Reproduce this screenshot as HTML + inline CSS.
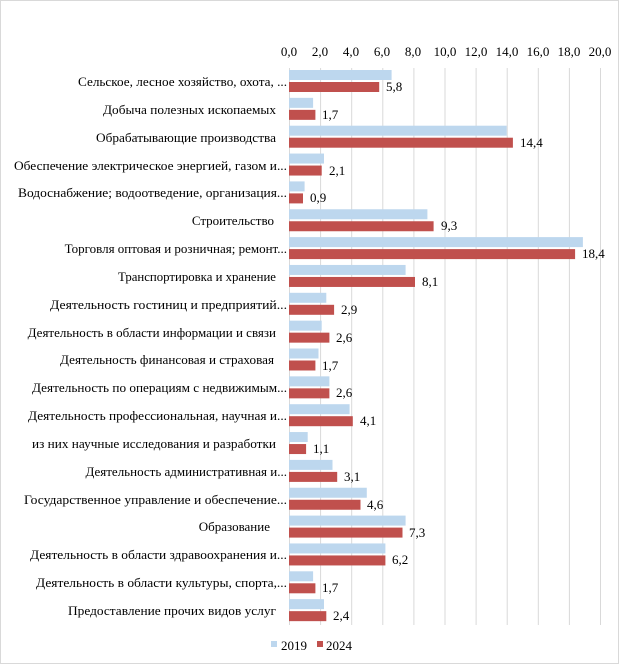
<!DOCTYPE html>
<html><head><meta charset="utf-8"><style>
html,body{margin:0;padding:0;background:#fff}
svg{display:block;font-family:"Liberation Serif",serif;font-size:13px}
</style></head><body>
<svg width="620" height="665" viewBox="0 0 620 665" xmlns="http://www.w3.org/2000/svg">
<rect x="0.5" y="0.5" width="618" height="663" fill="#fff" stroke="#d9d9d9"/>
<g stroke="#d9d9d9" stroke-width="1">
<line x1="289.5" y1="68" x2="289.5" y2="625"/>
<line x1="320.6" y1="68" x2="320.6" y2="625"/>
<line x1="351.7" y1="68" x2="351.7" y2="625"/>
<line x1="382.8" y1="68" x2="382.8" y2="625"/>
<line x1="413.9" y1="68" x2="413.9" y2="625"/>
<line x1="445" y1="68" x2="445" y2="625"/>
<line x1="476.1" y1="68" x2="476.1" y2="625"/>
<line x1="507.2" y1="68" x2="507.2" y2="625"/>
<line x1="538.3" y1="68" x2="538.3" y2="625"/>
<line x1="569.4" y1="68" x2="569.4" y2="625"/>
<line x1="600.5" y1="68" x2="600.5" y2="625"/>
</g>
<g text-anchor="middle" fill="#000">
<text x="289" y="56">0,0</text><text x="320" y="56">2,0</text><text x="351" y="56">4,0</text><text x="382" y="56">6,0</text><text x="413" y="56">8,0</text><text x="445" y="56">10,0</text><text x="476" y="56">12,0</text><text x="507" y="56">14,0</text><text x="538" y="56">16,0</text><text x="569" y="56">18,0</text><text x="600" y="56">20,0</text>
</g>
<g fill="#bdd7ee">
<rect x="289" y="70" width="102.6" height="10"/>
<rect x="289" y="97.85" width="24.1" height="10"/>
<rect x="289" y="125.7" width="217.7" height="10"/>
<rect x="289" y="153.55" width="35" height="10"/>
<rect x="289" y="181.4" width="15.6" height="10"/>
<rect x="289" y="209.25" width="138.4" height="10"/>
<rect x="289" y="237.1" width="293.9" height="10"/>
<rect x="289" y="264.95" width="116.6" height="10"/>
<rect x="289" y="292.8" width="37.3" height="10"/>
<rect x="289" y="320.65" width="32.7" height="10"/>
<rect x="289" y="348.5" width="29.5" height="10"/>
<rect x="289" y="376.35" width="40.4" height="10"/>
<rect x="289" y="404.2" width="60.6" height="10"/>
<rect x="289" y="432.05" width="18.7" height="10"/>
<rect x="289" y="459.9" width="43.5" height="10"/>
<rect x="289" y="487.75" width="77.8" height="10"/>
<rect x="289" y="515.6" width="116.6" height="10"/>
<rect x="289" y="543.45" width="96.4" height="10"/>
<rect x="289" y="571.3" width="24.1" height="10"/>
<rect x="289" y="599.15" width="35" height="10"/>
</g>
<g fill="#c0504d">
<rect x="289" y="82" width="90.2" height="10"/>
<rect x="289" y="109.85" width="26.4" height="10"/>
<rect x="289" y="137.7" width="223.9" height="10"/>
<rect x="289" y="165.55" width="32.7" height="10"/>
<rect x="289" y="193.4" width="14" height="10"/>
<rect x="289" y="221.25" width="144.6" height="10"/>
<rect x="289" y="249.1" width="286.1" height="10"/>
<rect x="289" y="276.95" width="126" height="10"/>
<rect x="289" y="304.8" width="45.1" height="10"/>
<rect x="289" y="332.65" width="40.4" height="10"/>
<rect x="289" y="360.5" width="26.4" height="10"/>
<rect x="289" y="388.35" width="40.4" height="10"/>
<rect x="289" y="416.2" width="63.8" height="10"/>
<rect x="289" y="444.05" width="17.1" height="10"/>
<rect x="289" y="471.9" width="48.2" height="10"/>
<rect x="289" y="499.75" width="71.5" height="10"/>
<rect x="289" y="527.6" width="113.5" height="10"/>
<rect x="289" y="555.45" width="96.4" height="10"/>
<rect x="289" y="583.3" width="26.4" height="10"/>
<rect x="289" y="611.15" width="37.3" height="10"/>
</g>
<g fill="#000">
<text x="386" y="91">5,8</text>
<text x="322" y="119">1,7</text>
<text x="520" y="147">14,4</text>
<text x="329" y="175">2,1</text>
<text x="310" y="202">0,9</text>
<text x="441" y="230">9,3</text>
<text x="582" y="258">18,4</text>
<text x="422" y="286">8,1</text>
<text x="341" y="314">2,9</text>
<text x="336" y="342">2,6</text>
<text x="322" y="370">1,7</text>
<text x="336" y="397">2,6</text>
<text x="360" y="425">4,1</text>
<text x="313" y="453">1,1</text>
<text x="344" y="481">3,1</text>
<text x="367" y="509">4,6</text>
<text x="409" y="537">7,3</text>
<text x="392" y="564">6,2</text>
<text x="322" y="592">1,7</text>
<text x="333" y="620">2,4</text>
</g>
<g fill="#000">
<text x="78" y="86" textLength="209" lengthAdjust="spacingAndGlyphs">Сельское, лесное хозяйство,  охота, ...</text>
<text x="103" y="114" textLength="173" lengthAdjust="spacingAndGlyphs">Добыча полезных  ископаемых</text>
<text x="96" y="142" textLength="180" lengthAdjust="spacingAndGlyphs">Обрабатывающие производства</text>
<text x="14" y="170" textLength="273" lengthAdjust="spacingAndGlyphs">Обеспечение электрическое  энергией, газом и...</text>
<text x="18" y="197" textLength="269" lengthAdjust="spacingAndGlyphs">Водоснабжение; водоотведение,  организация...</text>
<text x="274" y="225" text-anchor="end">Строительство</text>
<text x="287" y="253" text-anchor="end">Торговля оптовая и розничная; ремонт...</text>
<text x="118" y="281" textLength="158" lengthAdjust="spacingAndGlyphs">Транспортировка и хранение</text>
<text x="50" y="309" textLength="237" lengthAdjust="spacingAndGlyphs">Деятельность  гостиниц и предприятий...</text>
<text x="276" y="337" text-anchor="end">Деятельность  в области информации и связи</text>
<text x="60" y="364" textLength="214" lengthAdjust="spacingAndGlyphs">Деятельность  финансовая и страховая</text>
<text x="32" y="392" textLength="255" lengthAdjust="spacingAndGlyphs">Деятельность  по операциям с недвижимым...</text>
<text x="28" y="420" textLength="259" lengthAdjust="spacingAndGlyphs">Деятельность  профессиональная, научная и...</text>
<text x="32" y="448" textLength="244" lengthAdjust="spacingAndGlyphs">из них научные исследования и разработки</text>
<text x="287" y="476" text-anchor="end">Деятельность  административная и...</text>
<text x="24" y="504" textLength="263" lengthAdjust="spacingAndGlyphs">Государственное управление и обеспечение...</text>
<text x="270" y="531" text-anchor="end">Образование</text>
<text x="30" y="559" textLength="257" lengthAdjust="spacingAndGlyphs">Деятельность  в области здравоохранения  и...</text>
<text x="36" y="587" textLength="251" lengthAdjust="spacingAndGlyphs">Деятельность  в области культуры,  спорта,...</text>
<text x="68" y="615" textLength="208" lengthAdjust="spacingAndGlyphs">Предоставление  прочих видов  услуг</text>
</g>
<rect x="271" y="641" width="6" height="6" fill="#bdd7ee"/>
<text x="281" y="650">2019</text>
<rect x="317" y="641" width="6" height="6" fill="#c0504d"/>
<text x="326" y="650">2024</text>
</svg>
</body></html>
